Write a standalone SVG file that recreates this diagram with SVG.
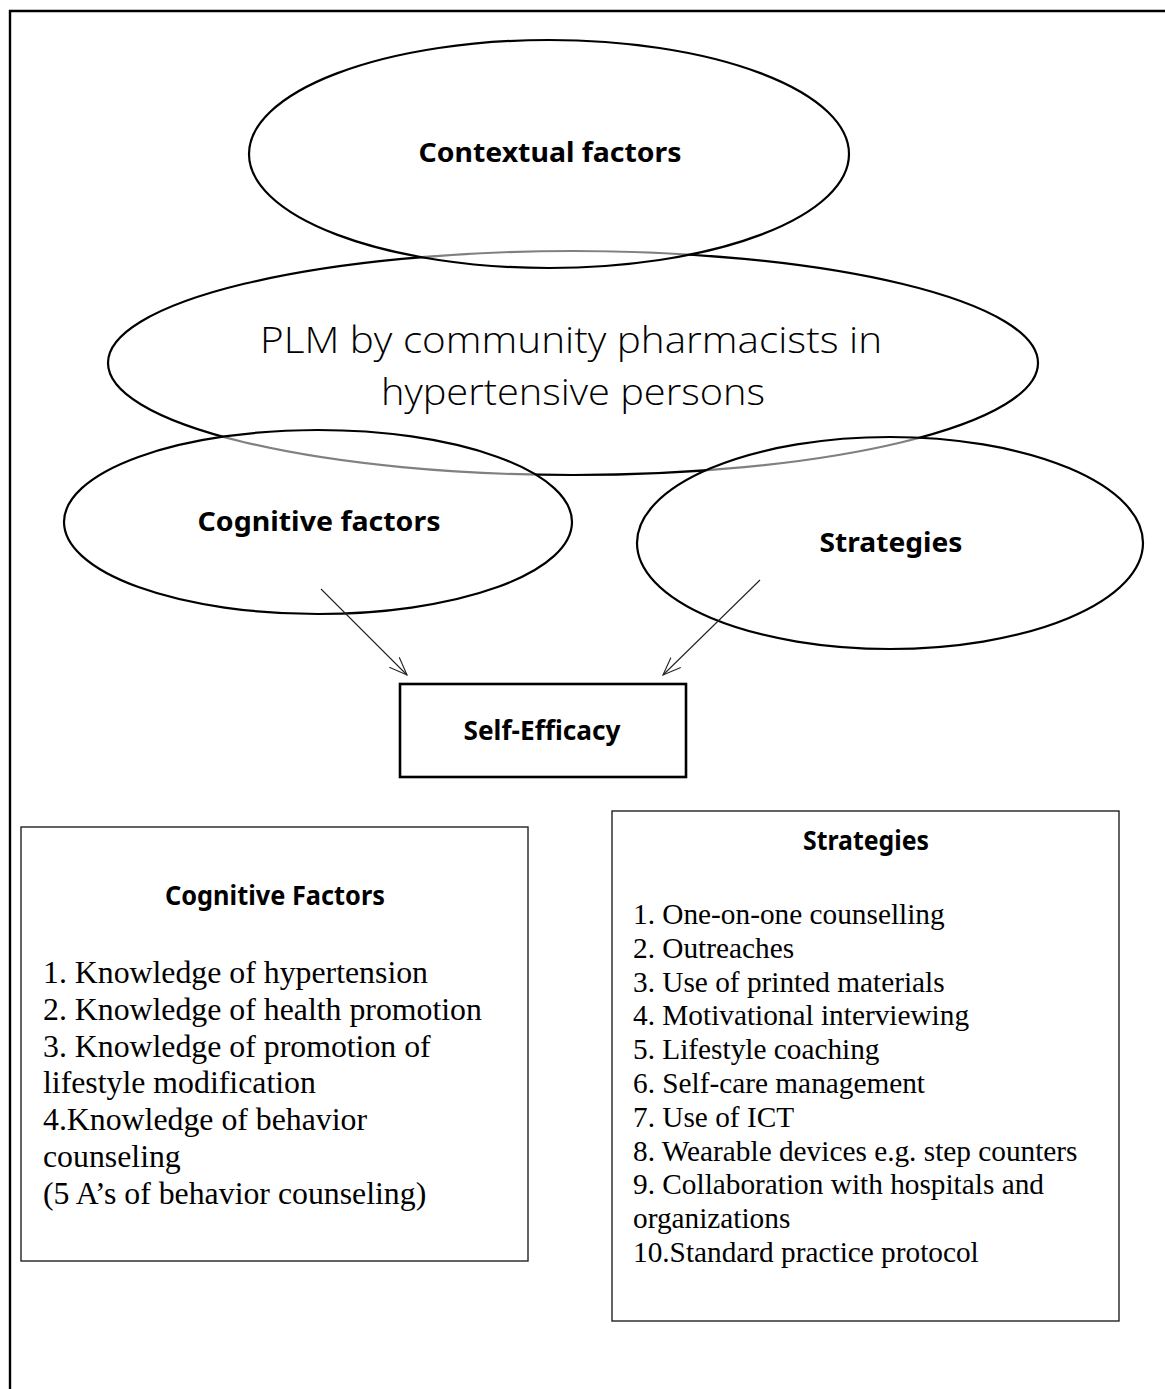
<svg xmlns="http://www.w3.org/2000/svg" width="1165" height="1389" viewBox="0 0 1165 1389">
<defs>
<style>
.ell{stroke:#000;stroke-width:2.2}
.lbl{font-family:"Noto Sans","Open Sans","DejaVu Sans",sans-serif;font-weight:bold;font-size:26px;fill:#000}
.plm{font-family:"Open Sans","Noto Sans","DejaVu Sans",sans-serif;font-weight:300;font-size:37px;fill:#000}
.box{fill:#fff;stroke:#222;stroke-width:1.4}
.lst{font-family:"Liberation Serif","Times New Roman",serif;fill:#000}
.conn{stroke:#222;stroke-width:1.1;fill:none}
</style>
<marker id="arr" viewBox="0 0 20 20" refX="18" refY="10" markerWidth="20" markerHeight="20" markerUnits="userSpaceOnUse" orient="auto">
<path d="M0,3 L18,10 L0,17" fill="none" stroke="#222" stroke-width="1.1"/>
</marker>
</defs>
<rect width="1165" height="1389" fill="#fff"/>
<g id="frame">
<path d="M10,1389 V11 H1165" fill="none" stroke="#000" stroke-width="2.4"/>
</g>
<g id="plm">
<ellipse class="ell" cx="573" cy="363" rx="465" ry="112" fill="#fff"/>
<text class="plm" x="571" y="353" text-anchor="middle" textLength="622" lengthAdjust="spacingAndGlyphs">PLM by community pharmacists in</text>
<text class="plm" x="573" y="405" text-anchor="middle" textLength="384" lengthAdjust="spacingAndGlyphs">hypertensive persons</text>
</g>
<g id="contextual">
<ellipse class="ell" cx="549" cy="154" rx="300" ry="114" fill="#fff" fill-opacity="0.5"/>
<text class="lbl" x="550" y="162" text-anchor="middle" textLength="263" lengthAdjust="spacingAndGlyphs">Contextual factors</text>
</g>
<g id="cognitive">
<ellipse class="ell" cx="318" cy="522" rx="254" ry="92" fill="#fff" fill-opacity="0.5"/>
<text class="lbl" x="319" y="531" text-anchor="middle" textLength="243" lengthAdjust="spacingAndGlyphs">Cognitive factors</text>
</g>
<g id="strategies">
<ellipse class="ell" cx="890" cy="543" rx="253" ry="106" fill="#fff" fill-opacity="0.5"/>
<text class="lbl" x="891" y="552" text-anchor="middle" textLength="143" lengthAdjust="spacingAndGlyphs">Strategies</text>
</g>
<g id="connectors">
<line class="conn" x1="321" y1="589" x2="407" y2="675" marker-end="url(#arr)"/>
<line class="conn" x1="760" y1="580" x2="663" y2="675" marker-end="url(#arr)"/>
</g>
<g id="self-efficacy">
<rect x="400" y="684" width="286" height="93" fill="#fff" stroke="#000" stroke-width="2.6"/>
<text class="lbl" x="542" y="740" text-anchor="middle" font-size="24" textLength="157" lengthAdjust="spacingAndGlyphs">Self-Efficacy</text>
</g>
<g id="cognitive-box">
<rect class="box" x="21" y="827" width="507" height="434"/>
<text class="lbl" x="275" y="905" text-anchor="middle" font-size="24" textLength="220" lengthAdjust="spacingAndGlyphs">Cognitive Factors</text>
<text class="lst" font-size="31.8" x="43">
<tspan x="43" y="983">1. Knowledge of hypertension</tspan>
<tspan x="43" y="1019.8">2. Knowledge of health promotion</tspan>
<tspan x="43" y="1056.6">3. Knowledge of promotion of</tspan>
<tspan x="43" y="1093.4">lifestyle modification</tspan>
<tspan x="43" y="1130.2">4.Knowledge of behavior</tspan>
<tspan x="43" y="1167">counseling</tspan>
<tspan x="43" y="1203.8">(5 A’s of behavior counseling)</tspan>
</text>
</g>
<g id="strategies-box">
<rect class="box" x="612" y="811" width="507" height="510"/>
<text class="lbl" x="866" y="850" text-anchor="middle" font-size="24" textLength="126" lengthAdjust="spacingAndGlyphs">Strategies</text>
<text class="lst" font-size="29.3" x="633">
<tspan x="633" y="924">1. One-on-one counselling</tspan>
<tspan x="633" y="957.8">2. Outreaches</tspan>
<tspan x="633" y="991.6">3. Use of printed materials</tspan>
<tspan x="633" y="1025.4">4. Motivational interviewing</tspan>
<tspan x="633" y="1059.2">5. Lifestyle coaching</tspan>
<tspan x="633" y="1093">6. Self-care management</tspan>
<tspan x="633" y="1126.8">7. Use of ICT</tspan>
<tspan x="633" y="1160.6">8. Wearable devices e.g. step counters</tspan>
<tspan x="633" y="1194.4">9. Collaboration with hospitals and</tspan>
<tspan x="633" y="1228.2">organizations</tspan>
<tspan x="633" y="1262">10.Standard practice protocol</tspan>
</text>
</g>
</svg>
